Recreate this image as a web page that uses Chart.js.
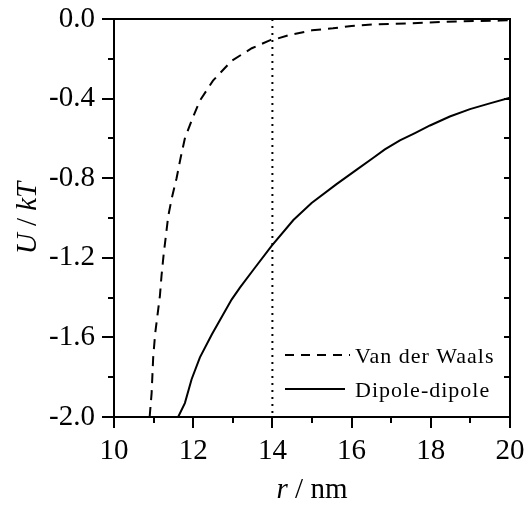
<!DOCTYPE html>
<html>
<head>
<meta charset="utf-8">
<title>U / kT vs r</title>
<script src="https://cdn.jsdelivr.net/npm/chart.js@4/dist/chart.umd.min.js"></script>
<style>
    html, body { margin: 0; padding: 0; background: #fff; }
    #wrap { width: 529px; height: 507px; }
</style>
</head>
<body>
<div id="wrap"><canvas id="chart" width="529" height="507"></canvas></div>
<script>
/*global Chart*/
// Van der Waals energy (dashed curve)
var rVdw = [10.90, 10.95, 10.99, 11.04, 11.16, 11.20, 11.25, 11.31, 11.37, 11.46, 11.58, 11.68, 11.79, 11.98,
    12.17, 12.50, 12.97, 13.48, 13.96, 14.10, 14.44, 15.00, 15.53, 16.00, 16.54, 17.47, 18.65, 19.75, 20.00];
var uVdw = [-2.00, -1.88, -1.70, -1.58, -1.39, -1.29, -1.19, -1.09, -0.99, -0.90, -0.80, -0.70, -0.60, -0.50,
    -0.41, -0.31, -0.21, -0.147, -0.105, -0.100, -0.080, -0.057, -0.047, -0.035, -0.027, -0.022, -0.012, -0.008, -0.006];

// Dipole-dipole energy (solid curve)
var rDip = [11.62, 11.79, 11.96, 12.17, 12.47, 12.97, 13.18, 13.52, 13.98, 14.53, 14.99, 15.62, 16.13, 16.55,
    16.84, 17.22, 17.60, 17.98, 18.48, 18.99, 19.49, 20.00];
var uDip = [-2.00, -1.93, -1.81, -1.70, -1.585, -1.41, -1.35, -1.26, -1.14, -1.01, -0.925, -0.83, -0.757, -0.697,
    -0.655, -0.61, -0.573, -0.535, -0.49, -0.453, -0.424, -0.395];

// vertical marker at r = 14 nm
var rMark = [14, 14];
var uMark = [0, -2];

var seriesNames = ["Van der Waals", "Dipole-dipole"];
var xTicks = [10, 12, 14, 16, 18, 20];
var yTicks = [0.0, -0.4, -0.8, -1.2, -1.6, -2.0];

(function () {
    "use strict";

    var SERIF = "'Liberation Serif', 'Times New Roman', serif";

    var toPoints = function (xs, ys) {
        var pts = [], i;
        for (i = 0; i < xs.length; i++) {
            pts.push({x: xs[i], y: ys[i]});
        }
        return pts;
    };

    // frame, tick marks, legend and axis titles
    var decor = {
        id: 'decor',
        afterDraw: function (chart) {
            var ctx = chart.ctx,
                a = chart.chartArea,
                xs = chart.scales.x,
                ys = chart.scales.y,
                v, p, len, i;

            ctx.save();
            ctx.strokeStyle = "#000";
            ctx.lineWidth = 2;
            ctx.strokeRect(a.left, a.top, a.right - a.left, a.bottom - a.top);

            ctx.beginPath();
            for (v = 10; v <= 20; v++) {
                p = Math.round(xs.getPixelForValue(v));
                len = (v % 2 === 0) ? 11 : 6;
                ctx.moveTo(p, a.bottom);
                ctx.lineTo(p, a.bottom + len);
            }
            for (i = 0; i <= 10; i++) {
                v = -i * 0.2;
                p = Math.round(ys.getPixelForValue(v));
                len = (i % 2 === 0) ? 12 : 6;
                ctx.moveTo(a.left, p);
                ctx.lineTo(a.left - len, p);
                ctx.moveTo(a.right, p);
                ctx.lineTo(a.right - 6, p);
            }
            ctx.stroke();

            // legend
            ctx.lineWidth = 2;
            ctx.setLineDash([9, 7]);
            ctx.beginPath();
            ctx.moveTo(285, 355);
            ctx.lineTo(350, 355);
            ctx.stroke();
            ctx.setLineDash([]);
            ctx.beginPath();
            ctx.moveTo(285, 389);
            ctx.lineTo(345, 389);
            ctx.stroke();

            ctx.fillStyle = "#000";
            ctx.textBaseline = "middle";
            ctx.textAlign = "left";
            ctx.font = "22px " + SERIF;
            ctx.letterSpacing = "1px";
            ctx.fillText(seriesNames[0], 355, 357);
            ctx.fillText(seriesNames[1], 355, 391);
            ctx.letterSpacing = "0px";

            var drawParts = function (list, cx, cy) {
                var total = 0, k, x;
                for (k = 0; k < list.length; k++) {
                    ctx.font = list[k][0] + "29px " + SERIF;
                    total += ctx.measureText(list[k][1]).width;
                }
                x = cx - total / 2;
                for (k = 0; k < list.length; k++) {
                    ctx.font = list[k][0] + "29px " + SERIF;
                    ctx.fillText(list[k][1], x, cy);
                    x += ctx.measureText(list[k][1]).width;
                }
            };

            // x title: r / nm
            drawParts([["italic ", "r"], ["", " / nm"]], (a.left + a.right) / 2, 490);

            // y title: U / kT
            ctx.translate(28, (a.top + a.bottom) / 2);
            ctx.rotate(-Math.PI / 2);
            drawParts([["italic ", "U"], ["", " / "], ["italic ", "kT"]], 0, 0);
            ctx.restore();
        }
    };

    var ctx = window.document.getElementById("chart");
    var chart = new Chart(ctx, {
        type: 'scatter',
        data: {
            datasets: [{
                label: seriesNames[0],
                data: toPoints(rVdw, uVdw),
                showLine: true,
                borderColor: "#000",
                borderWidth: 2,
                borderDash: [10, 7],
                pointRadius: 0,
                tension: 0
            }, {
                label: seriesNames[1],
                data: toPoints(rDip, uDip),
                showLine: true,
                borderColor: "#000",
                borderWidth: 2,
                pointRadius: 0,
                tension: 0
            }, {
                label: "r = 14",
                data: toPoints(rMark, uMark),
                showLine: true,
                borderColor: "#000",
                borderWidth: 2,
                borderDash: [2, 5],
                pointRadius: 0
            }]
        },
        options: {
            responsive: false,
            animation: false,
            layout: {padding: {left: 0, top: 19, right: 19, bottom: 0}},
            plugins: {
                legend: {display: false},
                tooltip: {enabled: false}
            },
            scales: {
                x: {
                    type: 'linear',
                    min: 10,
                    max: 20,
                    afterFit: function (scale) {
                        scale.height = 90;
                        // let the last label hang over the right margin
                        scale.paddingLeft = 0;
                        scale.paddingRight = 0;
                    },
                    afterBuildTicks: function (scale) {
                        scale.ticks = xTicks.map(function (v) { return {value: v}; });
                    },
                    grid: {display: true, drawOnChartArea: false, drawTicks: false},
                    border: {display: false},
                    ticks: {
                        color: "#000",
                        padding: 17,
                        maxRotation: 0,
                        font: {family: SERIF, size: 29},
                        callback: function (v) { return String(v); }
                    }
                },
                y: {
                    type: 'linear',
                    min: -2,
                    max: 0,
                    afterFit: function (scale) {
                        scale.width = 114;
                        scale.paddingTop = 0;
                        scale.paddingBottom = 0;
                    },
                    afterBuildTicks: function (scale) {
                        scale.ticks = yTicks.map(function (v) { return {value: v}; });
                    },
                    grid: {display: true, drawOnChartArea: false, drawTicks: false},
                    border: {display: false},
                    ticks: {
                        color: "#000",
                        padding: 19,
                        font: {family: SERIF, size: 29},
                        callback: function (v) { return Math.abs(v) < 1e-9 ? "0.0" : v.toFixed(1); }
                    }
                }
            }
        },
        plugins: [decor]
    });
}());
</script>
</body>
</html>
